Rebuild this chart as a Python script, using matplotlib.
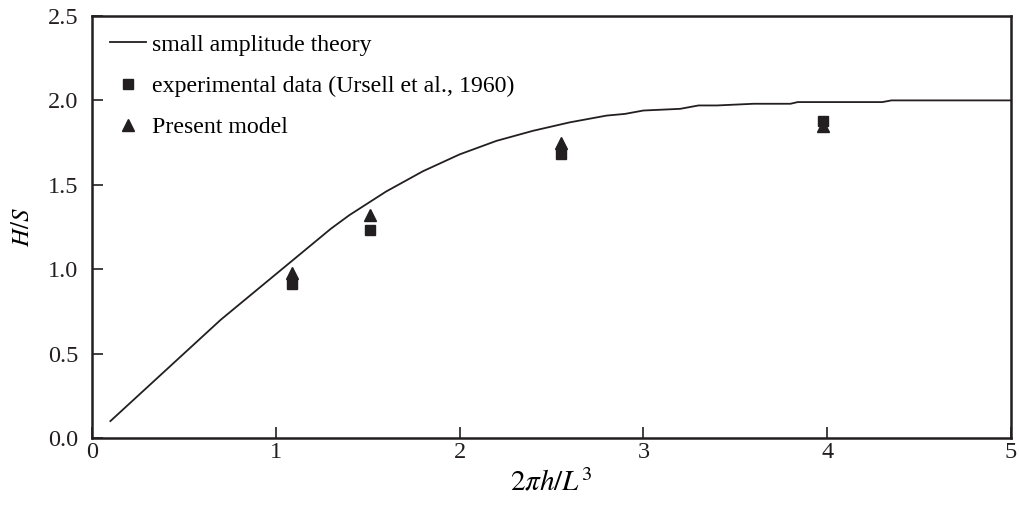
import matplotlib
matplotlib.use("Agg")
import matplotlib.pyplot as plt

plt.rcParams['font.family'] = ['Liberation Serif', 'DejaVu Serif']
plt.rcParams['mathtext.fontset'] = 'stix'

# small amplitude theory curve
theory_x = [0.1, 0.2, 0.3, 0.4, 0.5, 0.6, 0.7, 0.8, 0.9, 1.0, 1.1, 1.2, 1.3, 1.4,
            1.5, 1.6, 1.7, 1.8, 1.9, 2.0, 2.2, 2.4, 2.6, 2.8, 2.9, 3.0, 3.2, 3.3,
            3.4, 3.6, 3.8, 3.84, 4.3, 4.35, 5.0]
theory_y = [0.10, 0.20, 0.30, 0.40, 0.50, 0.60, 0.70, 0.79, 0.88, 0.97, 1.06, 1.15,
            1.24, 1.32, 1.39, 1.46, 1.52, 1.58, 1.63, 1.68, 1.76, 1.82, 1.87, 1.91,
            1.92, 1.94, 1.95, 1.97, 1.97, 1.98, 1.98, 1.99, 1.99, 2.00, 2.00]

# experimental data (Ursell et al., 1960)
exp_x = [1.09, 1.51, 2.55, 3.98]
exp_y = [0.91, 1.23, 1.68, 1.88]

# present model
model_x = [1.09, 1.51, 2.55, 3.98]
model_y = [0.98, 1.32, 1.75, 1.85]

x_ticks = [0, 1, 2, 3, 4, 5]
y_ticks = [0.0, 0.5, 1.0, 1.5, 2.0, 2.5]

fig = plt.figure(figsize=(10.19, 5.11), dpi=100)
ax = fig.add_axes([0.0903, 0.1429, 0.9018, 0.8258])

ax.plot(theory_x, theory_y, color='#231f20', lw=1.3, label='small amplitude theory')
ax.plot(exp_x, exp_y, ls='none', marker='s', ms=7, color='#231f20',
        label='experimental data (Ursell et al., 1960)')
ax.plot(model_x, model_y, ls='none', marker='^', ms=8, color='#231f20',
        label='Present model')

ax.set_xlim(0, 5)
ax.set_ylim(0, 2.5)
ax.set_xticks(x_ticks)
ax.set_xticklabels([str(t) for t in x_ticks])
ax.set_yticks(y_ticks)
ax.set_yticklabels([f"{t:.1f}" for t in y_ticks])
ax.tick_params(direction='in', length=8, width=1.2, labelsize=17.5,
               colors='#231f20')
ax.tick_params(axis='y', pad=10)
ax.tick_params(axis='x', pad=3)
for s in ax.spines.values():
    s.set_linewidth(1.8)
    s.set_color('#231f20')

ax.set_xlabel(r'$2\pi h/L^3$', fontsize=21, labelpad=4)
ax.set_ylabel(r'$H/S$', fontsize=18, labelpad=10)

ax.legend(loc='upper left', frameon=False, fontsize=17.2, handlelength=1.5,
          labelspacing=0.82, borderaxespad=0.35, handletextpad=0.25,
          bbox_to_anchor=(0.0, 1.0))

fig.savefig('out.png', dpi=100)
